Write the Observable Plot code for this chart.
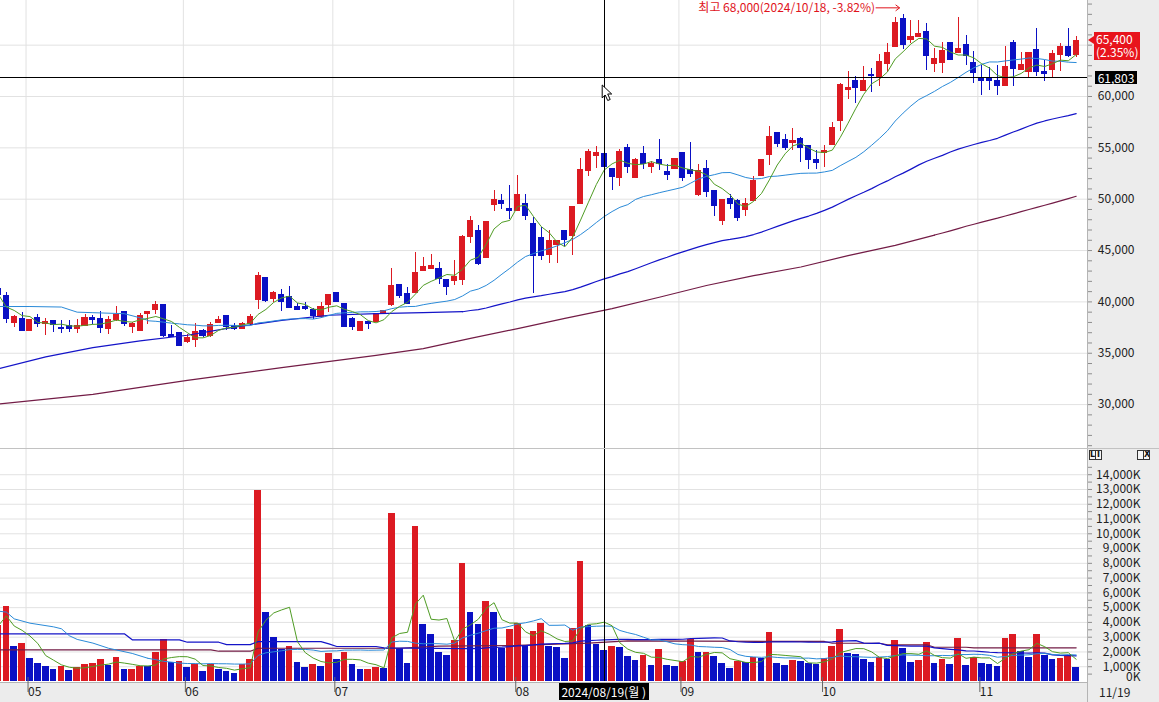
<!DOCTYPE html>
<html><head><meta charset="utf-8">
<script src="https://cdn.jsdelivr.net/npm/d3@7"></script>
<script src="https://cdn.jsdelivr.net/npm/@observablehq/plot@0.6"></script>
<style>
html,body{margin:0;padding:0;background:#fff;}
#wrap{position:relative;width:1159px;height:702px;overflow:hidden;background:#fff;font-family:"Noto Sans CJK KR","Noto Sans",sans-serif;}
#wrap svg{position:absolute;left:0;}
.panel{position:absolute;left:1087px;top:0;width:72px;height:702px;background:#ececec;border-left:1px solid #b4b4b4;box-sizing:border-box;}
.strip{position:absolute;left:0;top:682px;width:1087px;height:20px;background:#ececec;border-top:1px solid #b4b4b4;box-sizing:border-box;}
.sep{position:absolute;left:0;top:448px;width:1159px;height:1px;background:#c2c2c2;}
.tag{position:absolute;color:#fff;font-size:12px;line-height:13px;white-space:nowrap;box-sizing:border-box;}
.icos{position:absolute;top:450px;height:10px;white-space:nowrap;font-size:0;}
.b{display:inline-block;width:7px;height:10px;border:1px solid #333;box-sizing:border-box;margin-right:-1px;font:bold 8px/8px "DejaVu Sans",sans-serif;color:#111;text-align:center;background:#f6f6f6;vertical-align:top;overflow:hidden;}
</style></head>
<body><div id="wrap"><div class="panel"></div><div class="strip"></div><div class="sep"></div></div>
<script>
// ---------- DATA ----------
const tradingDays = {
  "2024-04": [25,26,29,30],
  "2024-05": [2,3,7,8,9,10,13,14,16,17,20,21,22,23,24,27,28,29,30,31],
  "2024-06": [3,4,5,7,10,11,12,13,14,17,18,19,20,21,24,25,26,27,28],
  "2024-07": [1,2,3,4,5,8,9,10,11,12,15,16,17,18,19,22,23,24,25,26,29,30,31],
  "2024-08": [1,2,5,6,7,8,9,12,13,14,16,19,20,21,22,23,26,27,28,29,30],
  "2024-09": [2,3,4,5,6,9,10,11,12,13,19,20,23,24,25,26,27,30],
  "2024-10": [2,4,7,8,10,11,14,15,16,17,18,21,22,23,24,25,28,29,30,31],
  "2024-11": [1,4,5,6,7,8,11,12,13,14,15,18,19]
};
const open = [
41300,40600,37950,38300,37150,38450,37850,38100,37500,37650,
37400,37700,38450,38350,37400,38200,39050,37600,37200,38850,
39250,39700,36800,36950,36050,36300,37200,36650,37950,38600,
37700,37400,37800,40200,42350,40300,40700,40450,39550,39550,
39250,38500,39650,40850,39750,38350,37200,38050,38050,38900,
39650,41600,40800,40850,43050,43200,43250,42150,42000,42150,
46350,46950,44250,49400,49850,49000,48850,49550,47550,46200,
44600,45500,46900,46450,49550,52700,54200,54400,52900,52100,
55000,52100,54400,53100,53800,52600,52900,54500,52800,50400,
52900,50800,47850,50000,49800,48900,49850,52300,54300,56400,
55800,55500,55900,55200,53800,54500,55300,57600,60600,61500,
60500,62100,61800,63200,64800,67500,65500,65800,66300,63200,
63300,65200,64200,65000,63300,61800,61800,61500,61000,65200,
62600,62400,64500,62400,62600,64000,64800,64000];
const high = [
41700,40900,38650,39000,38300,38750,38350,38200,38150,38150,
38300,38750,38650,39100,38550,39550,39100,38000,38850,39050,
40000,39750,37700,36950,36800,37850,37300,38000,38550,38600,
37900,37950,38800,42900,42350,41050,41200,41500,39800,39950,
39400,39950,40700,40850,39750,38500,38050,38050,38850,39150,
43300,41700,41400,44850,44350,44600,43850,42150,44050,46450,
48300,47450,47750,50800,50500,51300,52300,50500,48250,47200,
46950,45900,46950,49250,54000,54800,55100,55100,53000,54800,
55300,54000,55100,53700,55800,53400,53900,54500,55500,53400,
53800,50800,49950,50500,49950,50100,52200,53800,57100,56500,
56300,56900,56000,55200,54700,55200,57500,61300,62400,61900,
62900,62700,64100,65200,67700,68000,67400,67400,67100,64700,
65300,65300,67700,65900,64400,63000,62800,63000,64900,65500,
64300,64300,66600,63500,64500,65200,66600,65800];
const low = [
40400,37900,37550,37150,37150,37550,36700,37050,36950,37000,
36950,37650,37800,36950,36850,38050,37650,36950,37150,37800,
38750,36500,36550,35650,35950,35550,36550,36550,37850,37200,
37200,37400,37700,39250,39900,39900,39100,39400,39200,39150,
38300,38400,39000,39950,37550,37200,37200,37300,37950,38850,
39600,40350,39750,40850,43050,43200,41700,40600,41600,41600,
45700,43550,44250,48850,49000,48000,48850,47900,40850,44050,
43750,43750,45400,44500,49550,52200,53000,52400,50800,51200,
52500,52000,52900,52500,52800,51800,52900,51700,52100,50300,
50200,48350,47400,49000,47800,48300,49850,52300,53300,55000,
54700,54700,53600,52900,52900,53100,55300,56600,59700,59300,
60500,60400,61000,62300,64800,64600,65200,65800,62500,62300,
62200,63500,64200,63000,61300,60100,60600,60100,61000,61000,
62600,61800,61900,61500,61800,62400,63800,63800];
const close = [
40700,38300,38500,37150,38200,37850,38000,37750,37350,37400,
37650,38450,38200,37500,38250,38750,37800,37850,38600,39000,
39650,36650,36550,35750,36450,37100,36650,37750,38250,37600,
37400,37800,38550,42550,40050,40850,39950,39400,39250,39300,
38600,39550,40700,39950,37550,37550,38050,37800,38850,39100,
41500,40600,39750,42850,43350,43450,42250,41450,42450,46300,
47900,43650,47750,49950,49500,48850,50400,48400,44500,44500,
45900,45900,46050,49200,52800,54600,54500,53100,52200,54600,
53100,53800,53400,53400,53400,52400,53900,52100,52500,52700,
50700,49300,49950,49500,48150,49550,51800,53800,56100,55400,
55000,55700,55000,53800,53500,54700,56900,61100,60800,60800,
61500,62000,63400,64200,67200,65000,65800,66100,63900,63700,
64400,63600,64600,63900,62300,61500,61500,61000,62900,62700,
63100,64200,62400,62200,64100,64800,63900,65400];
// volume in thousands of shares (K)
const volume = [
3790,5100,2370,2590,1560,1240,1015,810,1015,745,
925,1150,1240,1490,1080,1625,800,820,1015,1000,
1960,2840,1300,1330,950,1150,675,1150,810,675,
540,1150,1490,12900,4700,2980,2170,2370,1285,950,
1150,1015,1900,1490,1960,1150,800,820,950,880,
11350,2250,1240,10500,3880,3200,1985,1760,2775,8000,
4670,3880,5420,4700,2250,3520,3900,2440,3385,3930,
2370,2300,1560,3570,8100,3810,2500,2100,2370,2300,
1690,1420,1760,1080,2170,1080,1015,1350,2865,1940,
1980,1690,1220,880,1350,1310,1650,1560,3320,1220,
1080,1420,1350,1220,1150,1535,2370,3520,1900,1830,
1490,1285,1650,1490,2775,2250,1285,1420,2640,1220,
1490,1150,2910,1080,1625,1220,1150,1015,2910,3180,
2030,1625,3180,1760,1490,1560,1760,950];

const ma20EarlyIdx = [0,4,8,10,12,16,18,19];
const ma20Early = [39550,39550,39500,39000,38950,38850,38450,38200];
const ma60EarlyIdx = [0,6,12,18,24,30,36,42,48,54,59];
const ma60Early = [33500,34650,35550,36200,36750,37550,38200,38700,38850,38950,39050];
const ma120EarlyIdx = [0,12,24,36,48,54,60,66,72,78,84,90,96,102,108,114,119];
const ma120Early = [30050,31000,32350,33600,34800,35450,36450,37400,38400,39350,40450,41600,42550,43400,44500,45500,46500];
const vol20EarlyIdx = [0,1,2,4,7,8,9,10,12,14,17,19];
const vol20Early = [4760,4700,4240,3950,3700,3570,3100,2850,2600,2250,1900,1570];
const vol60EarlyIdx = [0,16,17,23,24,28,29,32,33,41,42,43,48,49,59];
const vol60Early = [3230,3230,2820,2820,2660,2660,2500,2500,2700,2700,2550,2370,2370,2280,2230];
const vol120Idx = [0,27,28,32,33,51,56,66,75,80,100,105,106,112,113,118,119,123,124,137];
const vol120 = [2145,2145,2050,2050,2250,2250,2400,2440,2600,2750,2710,2710,2590,2590,2485,2485,2320,2320,2280,2280];

const priceGrid = [30000,35000,40000,45000,50000,55000,60000,65000];
const priceLabels = [30000,35000,40000,45000,50000,55000,60000];
const volLabels = [1000,2000,3000,4000,5000,6000,7000,8000,9000,10000,11000,12000,13000,14000];
const crosshairDate = "2024-08-19";
const crosshairPrice = 61803;
const weekdayKo = ["일","월","화","수","목","금","토"];

// ---------- BUILD ----------
const dates = Object.entries(tradingDays).flatMap(([ym, ds]) => ds.map(d => `${ym}-${String(d).padStart(2,"0")}`));
const candles = dates.map((date, i) => ({i, date, o: open[i], h: high[i], l: low[i], c: close[i], v: volume[i]}));
const volUp = candles.map((d, k) => k === 0 || d.v > candles[k-1].v);
const monthStarts = candles.filter((d, k) => k > 0 && d.date.slice(5,7) !== candles[k-1].date.slice(5,7));
const monthLabel = new Map(monthStarts.map(d => [d.i - 0.5, d.date.slice(5,7)]));
const pts = (idx, vals) => idx.map((i, k) => ({i, v: vals[k]}));
const crossI = dates.indexOf(crosshairDate);
const last = candles[candles.length - 1], prev = candles[candles.length - 2];
const chg = (last.c / prev.c - 1) * 100;
const hi = candles.reduce((a, b) => b.h > a.h ? b : a);
const hiPct = (last.c / hi.h - 1) * 100;
const fmt = d3.format(",");

const UP = "#dc1a22", DOWN = "#0a10c4";
const C5 = "#4f9c24", C20 = "#2a8ad8", C60 = "#1414c8", C120 = "#731c46";
const GRID = "#e2e2e2";
const font = `"Noto Sans CJK KR","Noto Sans",sans-serif`;
const xDomain = [0.254, 138.44];
const candleColor = d => d.c >= d.o ? UP : DOWN;

const wrap = document.getElementById("wrap");

const priceChart = Plot.plot({
  width: 1159, height: 448,
  marginLeft: 0, marginRight: 72, marginTop: 0, marginBottom: 0,
  x: {domain: xDomain, axis: null, label: null},
  y: {domain: [25725, 69348], axis: null, label: null},
  style: {background: "transparent", fontFamily: font, fontSize: "12px", overflow: "visible"},
  marks: [
    Plot.ruleY(priceGrid, {stroke: GRID}),
    Plot.ruleX(monthStarts, {x: d => d.i - 0.5, stroke: GRID}),
    Plot.axisY(d3.range(26000, 69001, 1000), {anchor: "right", label: null, tickSize: 4, stroke: "#8e8e8e", tickFormat: () => ""}),
    Plot.axisY(priceLabels, {anchor: "right", label: null, tickSize: 0, tickPadding: 47, textAnchor: "end", fill: "#222", tickFormat: fmt}),
    Plot.ruleX(candles, {x: "i", y1: "l", y2: "h", stroke: candleColor, clip: true, shapeRendering: "crispEdges"}),
    Plot.rect(candles, {x1: d => d.i - 0.5, x2: d => d.i + 0.5, y1: "o", y2: "c", insetLeft: 1.4, insetRight: 1.4,
      fill: candleColor, stroke: candleColor, strokeWidth: 1, clip: true, shapeRendering: "crispEdges"}),
    Plot.line(pts(ma120EarlyIdx, ma120Early), {x: "i", y: "v", stroke: C120, strokeWidth: 1.2, clip: true}),
    Plot.lineY(candles, Plot.windowY({k: 120, anchor: "end", strict: true}, {x: "i", y: "c", stroke: C120, strokeWidth: 1.2, clip: true})),
    Plot.line(pts(ma60EarlyIdx, ma60Early), {x: "i", y: "v", stroke: C60, strokeWidth: 1.2, clip: true}),
    Plot.lineY(candles, Plot.windowY({k: 60, anchor: "end", strict: true}, {x: "i", y: "c", stroke: C60, strokeWidth: 1.2, clip: true})),
    Plot.line(pts(ma20EarlyIdx, ma20Early), {x: "i", y: "v", stroke: C20, strokeWidth: 1, clip: true}),
    Plot.lineY(candles, Plot.windowY({k: 20, anchor: "end", strict: true}, {x: "i", y: "c", stroke: C20, strokeWidth: 1, clip: true})),
    Plot.lineY(candles, Plot.windowY({k: 5, anchor: "end"}, {x: "i", y: "c", stroke: C5, strokeWidth: 1, clip: true})),
    Plot.ruleX([crossI], {stroke: "#000", shapeRendering: "crispEdges"}),
    Plot.ruleY([crosshairPrice], {stroke: "#000", shapeRendering: "crispEdges"}),
    Plot.text([hi], {x: "i", y: "h", text: d => `최고 ${fmt(d.h)}(${d.date.replaceAll("-", "/")}, ${hiPct.toFixed(2)}%)`,
      textAnchor: "end", dx: -28, dy: -6, fill: "#e0141c", fontSize: 12})
  ]
});
priceChart.style.top = "0px";
wrap.appendChild(priceChart);

const volChart = Plot.plot({
  width: 1159, height: 254,
  marginLeft: 0, marginRight: 72, marginTop: 1, marginBottom: 21,
  x: {domain: xDomain, axis: null, label: null},
  y: {domain: [0, 15707], axis: null, label: null},
  style: {background: "transparent", fontFamily: font, fontSize: "12px", overflow: "visible"},
  marks: [
    Plot.ruleY(volLabels, {stroke: GRID}),
    Plot.ruleX(monthStarts, {x: d => d.i - 0.5, stroke: GRID}),
    Plot.axisY(d3.range(500, 14501, 500), {anchor: "right", label: null, tickSize: 4, stroke: "#8e8e8e", tickFormat: () => ""}),
    Plot.axisY(volLabels, {anchor: "right", label: null, tickSize: 0, tickPadding: 53, textAnchor: "end", fill: "#222", tickFormat: d => fmt(d) + "K"}),
    Plot.axisY([0], {anchor: "right", label: null, tickSize: 0, tickPadding: 53, textAnchor: "end", fill: "#222", dy: -4, tickFormat: d => fmt(d) + "K"}),
    Plot.rect(candles, {x1: d => d.i - 0.5, x2: d => d.i + 0.5, y1: 0, y2: "v", insetLeft: 0.6, insetRight: 0.6,
      fill: d => volUp[d.i] ? UP : DOWN, clip: true, shapeRendering: "crispEdges"}),
    Plot.line(pts(vol120Idx, vol120), {x: "i", y: "v", stroke: C120, strokeWidth: 1.2, clip: true}),
    Plot.line(pts(vol60EarlyIdx, vol60Early), {x: "i", y: "v", stroke: C60, strokeWidth: 1.2, clip: true}),
    Plot.lineY(candles, Plot.windowY({k: 60, anchor: "end", strict: true}, {x: "i", y: "v", stroke: C60, strokeWidth: 1.2, clip: true})),
    Plot.line(pts(vol20EarlyIdx, vol20Early), {x: "i", y: "v", stroke: C20, strokeWidth: 1, clip: true}),
    Plot.lineY(candles, Plot.windowY({k: 20, anchor: "end", strict: true}, {x: "i", y: "v", stroke: C20, strokeWidth: 1, clip: true})),
    Plot.lineY(candles, Plot.windowY({k: 5, anchor: "end"}, {x: "i", y: "v", stroke: C5, strokeWidth: 1, clip: true})),
    Plot.ruleX([crossI], {stroke: "#000", shapeRendering: "crispEdges"}),
    Plot.axisX([...monthLabel.keys()], {anchor: "bottom", label: null, tickSize: 15, tickPadding: 0, dy: -4, dx: 2, lineAnchor: "middle",
      textAnchor: "start", stroke: "#666", fill: "#222", tickFormat: v => monthLabel.get(v)})
  ]
});
volChart.style.top = "448px";
wrap.appendChild(volChart);

// ---------- overlays positioned with the charts' own scales ----------
const px = priceChart.scale("x"), py = priceChart.scale("y");
function addDiv(cls, css, html) {
  const d = document.createElement("div");
  if (cls) d.className = cls;
  d.style.cssText = css; d.innerHTML = html; wrap.appendChild(d); return d;
}
// crosshair price tag
addDiv("tag", `left:1095px;top:${py.apply(crosshairPrice) - 6.5}px;width:42px;height:13px;background:#000;text-align:center;`, fmt(crosshairPrice));
// current price tag
const yLast = py.apply(last.c);
addDiv("tag", `left:1094px;top:${yLast - 8.5}px;width:46px;height:28px;background:#e8141c;padding-left:2px;`,
  `${fmt(last.c)}<br>(${chg.toFixed(2)}%)`);
addDiv("", `position:absolute;left:1088px;top:${yLast - 4.5}px;width:0;height:0;border-top:4.5px solid transparent;border-bottom:4.5px solid transparent;border-right:6px solid #e8141c;`, "");
// crosshair date tag
const cd = new Date(crosshairDate + "T00:00:00");
addDiv("tag", `left:${px.apply(crossI) - 45}px;top:683px;width:90px;height:17px;line-height:17px;background:#000;text-align:center;`,
  `${crosshairDate.replaceAll("-", "/")}(${weekdayKo[cd.getDay()]} )`);
// last date in the axis panel
addDiv("", `position:absolute;left:1099px;top:684px;font-size:12px;line-height:16px;color:#222;white-space:nowrap;`, last.date.slice(5).replace("-", "/"));
// pane icons
addDiv("icos", "left:1089px;", `<span class="b">L</span><span class="b">I</span>`);
addDiv("icos", "left:1137px;", `<span class="b"></span><span class="b">X</span>`);

// arrow after the high annotation and mouse cursor
const ov = d3.select(wrap).append("svg").attr("width", 1159).attr("height", 702)
  .style("position", "absolute").style("left", "0px").style("top", "0px").style("pointer-events", "none");
const hx = px.apply(hi.i), hy = py.apply(hi.h) - 6;
ov.append("path").attr("d", `M${hx - 27},${hy}H${hx - 3}M${hx - 7},${hy - 3}L${hx - 3},${hy}L${hx - 7},${hy + 3}`)
  .attr("stroke", "#e0141c").attr("fill", "none").attr("stroke-width", 1);
const cx = px.apply(crossI) - 2, cy = py.apply(crosshairPrice) + 7;
ov.append("path").attr("transform", `translate(${cx},${cy})`)
  .attr("d", "M0.5,0.5V13.5L3.5,10.5L6,16L8.5,15L6,9.5H10Z").attr("fill", "#fff").attr("stroke", "#000").attr("stroke-width", 1);
</script></body></html>
